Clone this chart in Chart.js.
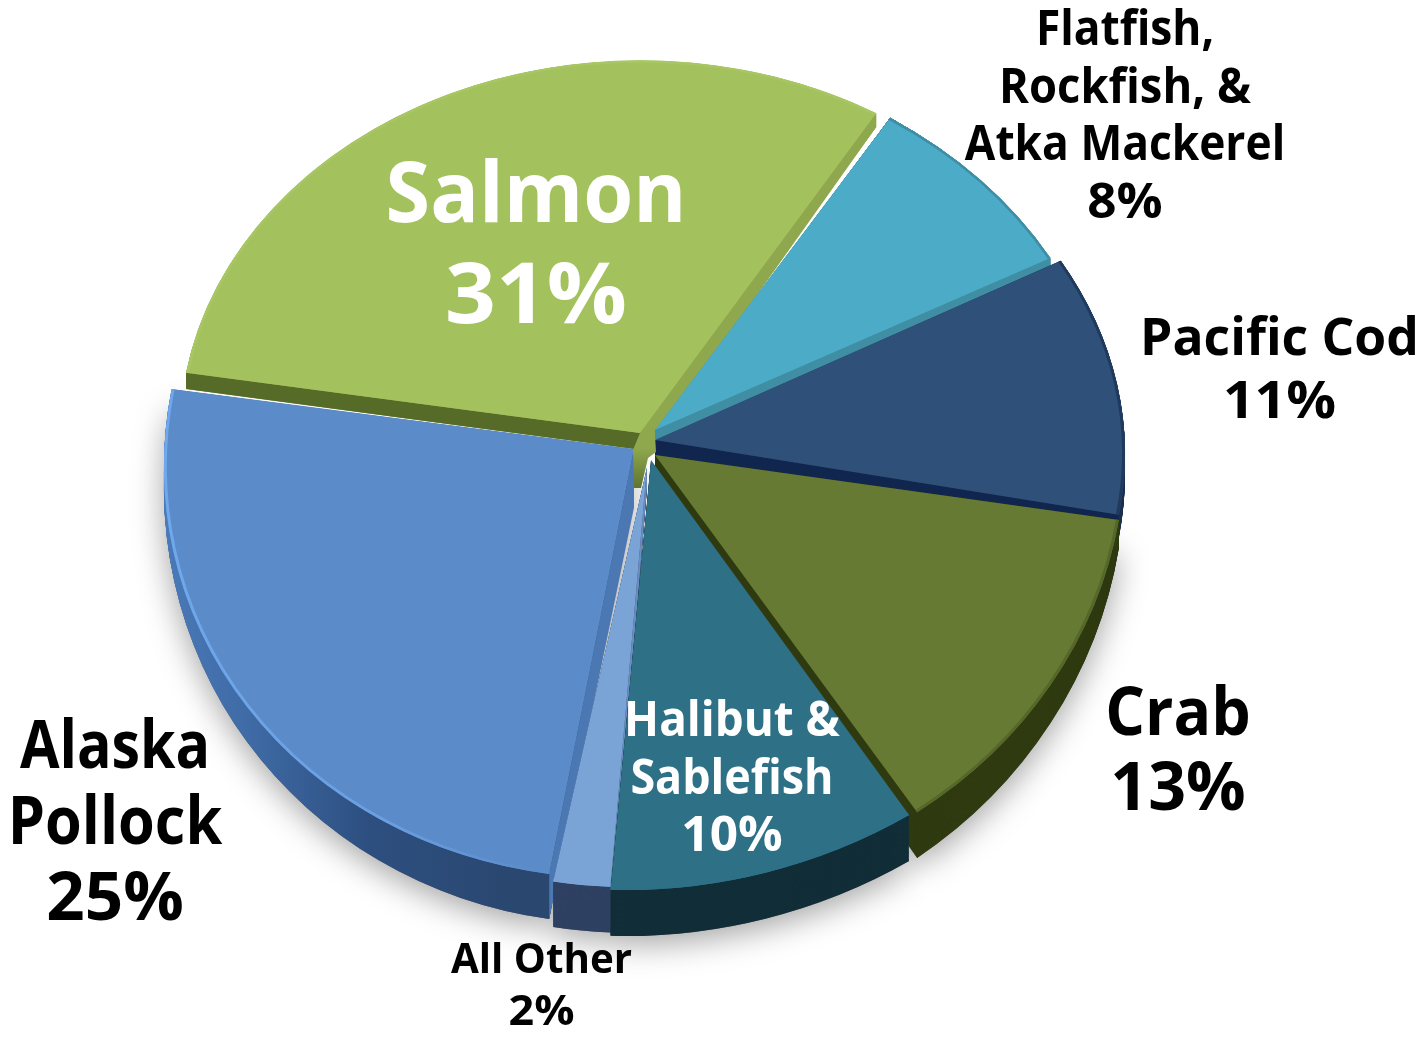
<!DOCTYPE html>
<html lang="en">
<head>
  <meta charset="UTF-8">
  <title>Fishery Value by Species</title>
  <script src="https://cdn.jsdelivr.net/npm/chart.js"></script>
  <style>
    html, body { margin: 0; padding: 0; background: #fff; }
    canvas { display: block; }
  </style>
</head>
<body>
  <canvas id="pieChart" width="1423" height="1037"></canvas>

  <script>
    const categories = ['Salmon', 'Flatfish, Rockfish, & Atka Mackerel', 'Pacific Cod', 'Crab', 'Halibut & Sablefish', 'All Other', 'Alaska Pollock'];
    const shares = [31, 8, 11, 13, 10, 2, 25];
    const labelLines = [['Salmon'], ['Flatfish,', 'Rockfish, &', 'Atka Mackerel'], ['Pacific Cod'], ['Crab'], ['Halibut &', 'Sablefish'], ['All Other'], ['Alaska', 'Pollock']];

    const topColors = ['#a3c25e', '#4cacc7', '#2f5079', '#667a33', '#2e7086', '#7aa3d6', '#5b8bc9'];
    const rimColors = ['#a8c764', '#3f8ea6', '#1f3a5c', '#55682a', '#2e7086', '#7aa3d6', null];
    const wallColors = ['#8fa84e', '#3f8ea3', '#1d3350', '#2f3a10', '#122e38', '#2f4163', '#2a4770'];
    const startCutColors = ['#566b27', null, null, '#2e3a10', null, '#6a8cc0', '#4b78b3'];
    const endCutColors = ['#8fa84e', '#3f8ea3', '#10264f', null, null, null, null];

    // each slice is pulled out and tilted on its own: tip position, radius, vertical squash, shears
    const sliceTilt = [
      { ax: 640, ay: 433, r: 460, k: 0.81, shx: 0, shy: 0 },
      { ax: 655, ay: 430, r: 458, k: 0.82, shx: 0, shy: 0.044 },
      { ax: 655, ay: 440, r: 470, k: 0.806, shx: 0, shy: 0.029 },
      { ax: 655, ay: 455, r: 470, k: 0.923, shx: 0, shy: -0.011 },
      { ax: 651, ay: 460, r: 496, k: 0.867, shx: -0.045, shy: -0.007 },
      { ax: 647, ay: 467, r: 460, k: 0.913, shx: -0.043, shy: 0 },
      { ax: 634, ay: 449, r: 470, k: 0.913, shx: -0.019, shy: -0.02 }
    ];
    // how far the underside drops: grows with screen y, plus a fixed shift
    const wallGrow = [0.01, 0.06, 0.06, 0.06, 0, 0.06, 0.06];
    const wallShift = [12.5, -7.4, -7.4, -3, 46, -7.4, -7.4];
    // cut faces that run deeper at the hub than at the rim
    const startCutTip = [1, 1, 1, 1, 1, 1, 3];
    const endCutTip = [1.6, 1, 1, 1, 1, 1, 1];
    const drawOrder = [0, 1, 2, 3, 6, 5, 4];
    const shadowSlices = [3, 6, 4, 5];

    // olive sliver of the Salmon wall around the hub, relative to the Salmon tip
    const hubSliver = [[0, 0], [15, 2], [16, 19], [8, 25], [1, 55], [-6, 55], [-7, 17]];

    const labelStyles = [
      { x: 536, y: 222, size: 84, gap: 101, color: '#fff', widths: [292, 177] },
      { x: 1125, y: 45, size: 48, gap: 57.6, color: '#000', widths: [172, 248, 317, 73] },
      { x: 1279.5, y: 355, size: 52, gap: 63, color: '#000', widths: [271, 109] },
      { x: 1178, y: 735, size: 66, gap: 75, color: '#000', widths: [140, 131] },
      { x: 732, y: 736, size: 48, gap: 57.5, color: '#fff', widths: [212, 198, 98] },
      { x: 541.5, y: 973, size: 42, gap: 52, color: '#000', widths: [181, 64] },
      { x: 115, y: 768, size: 66, gap: 76, color: '#000', widths: [186, 210, 134] }
    ];

    const chartRadius = 480;
    const wallSteps = 50;

    function wallMatrix(i, t) {
      return new DOMMatrix([1, 0, 0, 1 + wallGrow[i] * t, 0, wallShift[i] * t]);
    }

    function sliceMatrix(arc, i, t) {
      const s = sliceTilt[i];
      const scale = s.r / chartRadius;
      return wallMatrix(i, t)
        .multiply(new DOMMatrix([1, s.shy, s.shx, s.k, s.ax, s.ay]))
        .scale(scale, scale)
        .translate(-arc.x, -arc.y);
    }

    function drawArc(ctx, arc, i, t, fill) {
      const ghost = Object.create(arc);
      ghost.options = { ...arc.options, backgroundColor: fill, borderWidth: 0 };
      ctx.save();
      ctx.setTransform(sliceMatrix(arc, i, t));
      ghost.draw(ctx);
      ctx.restore();
    }

    function fillPolygon(ctx, pts, fill) {
      ctx.fillStyle = fill;
      ctx.beginPath();
      pts.forEach((p, n) => n ? ctx.lineTo(p.x, p.y) : ctx.moveTo(p.x, p.y));
      ctx.closePath();
      ctx.fill();
    }

    function drawCut(ctx, arc, i, angle, fill, tipDepth) {
      const edge = { x: arc.x + arc.outerRadius * Math.cos(angle), y: arc.y + arc.outerRadius * Math.sin(angle) };
      const tip = { x: arc.x, y: arc.y };
      const top = sliceMatrix(arc, i, 0);
      const under = sliceMatrix(arc, i, 1);
      const underTip = sliceMatrix(arc, i, tipDepth);
      fillPolygon(ctx, [top.transformPoint(tip), top.transformPoint(edge), under.transformPoint(edge), underTip.transformPoint(tip)], fill);
    }

    function drawRim(ctx, arc, i, stroke) {
      ctx.save();
      ctx.setTransform(sliceMatrix(arc, i, 0));
      ctx.strokeStyle = stroke;
      ctx.lineWidth = 3;
      ctx.beginPath();
      ctx.arc(arc.x, arc.y, arc.outerRadius - 1.5, arc.startAngle, arc.endAngle);
      ctx.stroke();
      ctx.restore();
    }

    const tiltedPie = {
      id: 'tiltedPie',
      beforeDatasetDraw(chart) {
        const ctx = chart.ctx;
        const arcs = chart.getDatasetMeta(0).data;

        // soft shadow thrown by the underside of the front slices
        ctx.save();
        ctx.shadowColor = 'rgba(0,0,0,0.36)';
        ctx.shadowBlur = 32;
        ctx.shadowOffsetY = 8;
        shadowSlices.forEach(i => drawArc(ctx, arcs[i], i, 1, '#666'));
        ctx.restore();

        const cx = arcs[0].x;
        const pollockWall = ctx.createLinearGradient(cx - chartRadius, 0, cx - 120, 0);
        pollockWall.addColorStop(0, '#4a7ab8');
        pollockWall.addColorStop(0.25, '#3f6ba6');
        pollockWall.addColorStop(0.6, '#2d4f80');
        pollockWall.addColorStop(1, '#2a4770');

        // highlight along the left rim of the pollock slice, gone before the front edge
        const pollockRim = ctx.createLinearGradient(cx - chartRadius, 0, cx - 90, 0);
        pollockRim.addColorStop(0, '#6fa8ec');
        pollockRim.addColorStop(0.6, '#6a9fe0');
        pollockRim.addColorStop(1, '#5b8bc9');

        drawOrder.forEach(i => {
          const arc = arcs[i];
          const wall = i === 6 ? pollockWall : wallColors[i];
          for (let step = wallSteps; step > 0; step--) {
            drawArc(ctx, arc, i, step / wallSteps, wall);
          }
          if (startCutColors[i]) drawCut(ctx, arc, i, arc.startAngle, startCutColors[i], startCutTip[i]);
          if (endCutColors[i]) drawCut(ctx, arc, i, arc.endAngle, endCutColors[i], endCutTip[i]);
          drawArc(ctx, arc, i, 0, topColors[i]);
          drawRim(ctx, arc, i, rimColors[i] || pollockRim);
          // the hub sliver lies over the slices drawn so far, under Halibut
          if (i === 5) {
            const tip = sliceTilt[0];
            const sliverFill = ctx.createLinearGradient(0, tip.ay + 15, 0, tip.ay + 55);
            sliverFill.addColorStop(0, '#8fa84e');
            sliverFill.addColorStop(1, '#5f7430');
            fillPolygon(ctx, hubSliver.map(([x, y]) => ({ x: tip.ax + x, y: tip.ay + y })), sliverFill);
          }
        });
        return false;
      },
      afterDatasetsDraw(chart) {
        const ctx = chart.ctx;
        ctx.save();
        ctx.textAlign = 'center';
        ctx.textBaseline = 'alphabetic';
        labelLines.forEach((lines, i) => {
          const st = labelStyles[i];
          ctx.font = `700 ${st.size}px "Open Sans"`;
          ctx.fillStyle = st.color;
          [...lines, shares[i] + '%'].forEach((line, n) => {
            const box = ctx.measureText(line);
            const inkWidth = box.actualBoundingBoxLeft + box.actualBoundingBoxRight;
            ctx.save();
            ctx.translate(st.x, st.y + n * st.gap);
            ctx.scale(st.widths[n] / inkWidth, 1);
            ctx.fillText(line, 0, 0);
            ctx.restore();
          });
        });
        ctx.restore();
      }
    };

    new Chart(document.getElementById('pieChart').getContext('2d'), {
      type: 'pie',
      data: {
        labels: categories,
        datasets: [{
          data: shares,
          backgroundColor: topColors,
          borderWidth: 0
        }]
      },
      options: {
        responsive: false,
        animation: false,
        rotation: -80.7,
        radius: chartRadius,
        plugins: {
          legend: { display: false },
          tooltip: { enabled: false }
        }
      },
      plugins: [tiltedPie]
    });
  </script>
</body>
</html>
